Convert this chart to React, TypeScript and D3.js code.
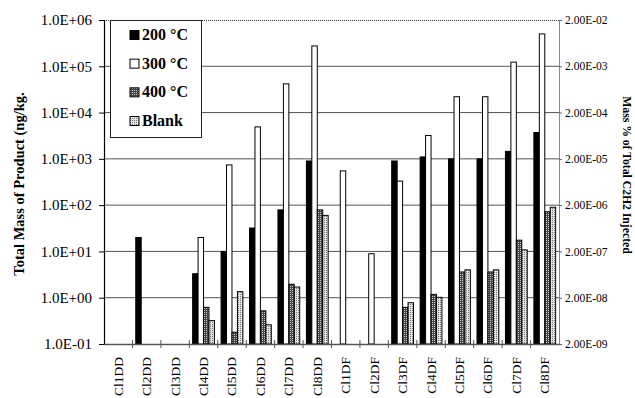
import React, { useEffect, useRef } from "react";
import * as d3 from "d3";

const categories = [
  "Cl1DD", "Cl2DD", "Cl3DD", "Cl4DD", "Cl5DD", "Cl6DD", "Cl7DD", "Cl8DD",
  "Cl1DF", "Cl2DF", "Cl3DF", "Cl4DF", "Cl5DF", "Cl6DF", "Cl7DF", "Cl8DF",
];
const seriesNames = ["200 °C", "300 °C", "400 °C", "Blank"];
const s200 = [null, 20, null, 3.3, 10, 32, 79, 900, null, null, 900, 1100, 1000, 1000, 1450, 3700];
const s300 = [null, null, null, 20, 740, 4900, 41700, 275000, 550, 8.9, 330, 3200, 22000, 22000, 123000, 500000];
const s400 = [null, null, null, 0.62, 0.18, 0.52, 1.95, 79, null, null, 0.62, 1.18, 3.6, 3.6, 17.5, 72];
const sBlank = [null, null, null, 0.32, 1.35, 0.26, 1.7, 60, null, null, 0.78, 1.02, 4.0, 4.0, 10.8, 90];
const leftTicks = [1e-1, 1e0, 1e1, 1e2, 1e3, 1e4, 1e5, 1e6];
const rightTicks = [2e-9, 2e-8, 2e-7, 2e-6, 2e-5, 2e-4, 2e-3, 2e-2];

const FONT = "Liberation Serif, Times New Roman, DejaVu Serif, serif";

function fmtExp(v: number, digits: number) {
  const e = Math.floor(Math.log10(v) + 1e-9);
  const mant = v / Math.pow(10, e);
  const sign = e < 0 ? "-" : "+";
  const ae = Math.abs(e);
  return mant.toFixed(digits) + "E" + sign + (ae < 10 ? "0" + ae : ae);
}

export default function App() {
  const ref = useRef<SVGSVGElement>(null);

  useEffect(() => {
    const svg = d3.select(ref.current);
    svg.selectAll("*").remove();

    const m = { left: 104, right: 76, top: 20, bottom: 54 };
    const W = 635;
    const H = 398;
    const x0 = m.left;
    const x1 = W - m.right;
    const y0 = m.top;
    const y1 = H - m.bottom;

    const defs = svg.append("defs");
    const p4 = defs.append("pattern").attr("id", "p400").attr("width", 2).attr("height", 2)
      .attr("patternUnits", "userSpaceOnUse");
    p4.append("rect").attr("width", 2).attr("height", 2).attr("fill", "#444");
    p4.append("rect").attr("width", 1).attr("height", 1).attr("fill", "#d0d0d0");
    const pb = defs.append("pattern").attr("id", "pblank").attr("width", 2).attr("height", 2)
      .attr("patternUnits", "userSpaceOnUse");
    pb.append("rect").attr("width", 2).attr("height", 2).attr("fill", "#e4e4e4");
    pb.append("rect").attr("width", 1).attr("height", 1).attr("fill", "#777");

    const fills = ["#000", "#fff", "url(#p400)", "url(#pblank)"];
    const series = [s200, s300, s400, sBlank];

    const x = d3.scaleBand().domain(categories).range([x0, x1]).paddingInner(0).paddingOuter(0);
    const xs = d3.scaleBand().domain(seriesNames).range([0, x.bandwidth()]).paddingInner(0).paddingOuter(0.61);
    const y = d3.scaleLog().domain([1e-1, 1e6]).range([y1, y0]);
    const yr = d3.scaleLog().domain([2e-9, 2e-2]).range([y1, y0]);

    // gridlines
    svg.append("g").selectAll("line").data(leftTicks.slice(1, -1)).join("line")
      .attr("x1", x0).attr("x2", x1)
      .attr("y1", (d) => y(d)).attr("y2", (d) => y(d))
      .attr("stroke", "#555").attr("stroke-width", 1);

    // top border and right border
    svg.append("line").attr("x1", x0).attr("x2", x1).attr("y1", y0 + 0.5).attr("y2", y0 + 0.5)
      .attr("stroke", "#333").attr("stroke-dasharray", "1,1");
    svg.append("line").attr("x1", x1 + 0.5).attr("x2", x1 + 0.5).attr("y1", y0).attr("y2", y1)
      .attr("stroke", "#888");

    // bars
    series.forEach((vals, si) => {
      svg.append("g").selectAll("rect")
        .data(vals.map((v, i) => ({ v, c: categories[i] })).filter((d) => d.v != null))
        .join("rect")
        .attr("x", (d) => (x(d.c) as number) + (xs(seriesNames[si]) as number))
        .attr("width", xs.bandwidth())
        .attr("y", (d) => y(d.v as number))
        .attr("height", (d) => y1 - y(d.v as number))
        .attr("fill", fills[si])
        .attr("stroke", "#000").attr("stroke-width", 1);
    });

    // left axis
    const ga = svg.append("g").attr("transform", `translate(${x0},0)`)
      .call(d3.axisLeft(y).tickValues(leftTicks).tickFormat((d) => fmtExp(d as number, 1)).tickSize(5).tickPadding(7));
    ga.attr("font-family", null);
    ga.select(".domain").attr("stroke", "#000").attr("stroke-width", 1.2);
    ga.selectAll("text").style("font-family", FONT).style("font-size", "15px").attr("fill", "#000");

    // right axis
    const gr = svg.append("g").attr("transform", `translate(${x1},0)`)
      .call(d3.axisRight(yr).tickValues(rightTicks).tickFormat((d) => fmtExp(d as number, 2)).tickSize(3).tickPadding(3));
    gr.attr("font-family", null);
    gr.select(".domain").remove();
    gr.selectAll("line").attr("stroke", "#666");
    gr.selectAll("text").style("font-family", FONT).style("font-size", "11.5px").attr("fill", "#000");

    // bottom axis
    const gb = svg.append("g").attr("transform", `translate(0,${y1})`)
      .call(d3.axisBottom(x).tickSize(0).tickFormat(() => ""));
    gb.select(".domain").attr("stroke", "#555").attr("stroke-width", 1.5);
    svg.append("g").selectAll("line").data(categories.slice(1)).join("line")
      .attr("x1", (d) => x(d) as number).attr("x2", (d) => x(d) as number)
      .attr("y1", y1 - 4).attr("y2", y1 + 4)
      .attr("stroke", "#555");
    svg.append("g").selectAll("text").data(categories).join("text")
      .attr("transform", (d) => `translate(${(x(d) as number) + x.bandwidth() / 2 + 4.5},${y1 + 13}) rotate(-90)`)
      .attr("text-anchor", "end")
      .style("font-family", FONT).style("font-size", "13.5px")
      .text((d) => d);

    // axis titles
    svg.append("text")
      .attr("transform", `translate(24,184) rotate(-90)`)
      .attr("text-anchor", "middle").style("font-family", FONT).style("font-weight", "bold")
      .style("font-size", "14.5px").text("Total Mass of Product (ng/kg.");
    svg.append("text")
      .attr("transform", `translate(623,175) rotate(90)`)
      .attr("text-anchor", "middle").style("font-family", FONT).style("font-weight", "bold")
      .style("font-size", "11.7px").text("Mass % of Total C2H2 Injected");

    // legend
    const lg = svg.append("g");
    lg.append("rect").attr("x", 110.5).attr("y", 20.5).attr("width", 91).attr("height", 117)
      .attr("fill", "#fff").attr("stroke", "#222");
    const rowY = d3.scalePoint().domain(seriesNames).range([35, 121]);
    seriesNames.forEach((s, i) => {
      const cy = rowY(s) as number;
      lg.append("rect").attr("x", 130).attr("y", cy - 4.5).attr("width", 9).attr("height", 9)
        .attr("fill", fills[i]).attr("stroke", "#000");
      lg.append("text").attr("x", 142).attr("y", cy + 5)
        .style("font-family", FONT).style("font-weight", "bold").style("font-size", "16px")
        .text(s);
    });
  }, []);

  return (
    <svg
      ref={ref}
      width={635}
      height={398}
      style={{ position: "absolute", left: 0, top: 0, background: "#fff" }}
    />
  );
}
